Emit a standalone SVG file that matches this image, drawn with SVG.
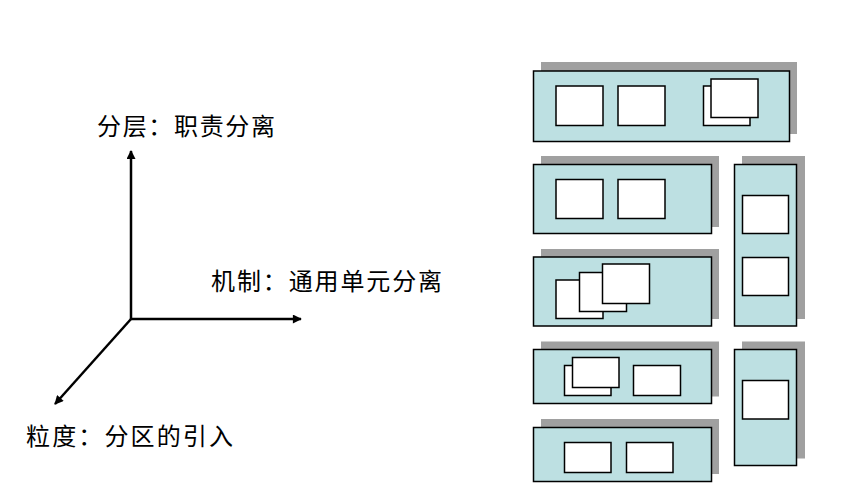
<svg xmlns="http://www.w3.org/2000/svg" width="854" height="490" viewBox="0 0 854 490">
<style>
.t{font-family:"Noto Sans CJK SC","Noto Sans",sans-serif;font-size:24px;fill:#000}
.sh{fill:#a0a0a0;stroke:none}
.pn{fill:#bde0e2;stroke:#000;stroke-width:1.5}
.bx{fill:#fff;stroke:#000;stroke-width:1.5}
.ax{stroke:#000;stroke-width:2.5;fill:none;marker-end:url(#ah)}
</style>
<defs>
<marker id="ah" viewBox="0 0 10 10" refX="9" refY="5" markerWidth="4" markerHeight="3.6" orient="auto" markerUnits="strokeWidth">
<path d="M0,0 L10,5 L0,10 z" fill="#000"/>
</marker>
</defs>
<rect width="854" height="490" fill="#fff"/>
<g id="connectors">
<line class="ax" x1="131" y1="319" x2="131" y2="151"/>
<line class="ax" x1="131" y1="319" x2="301" y2="319"/>
<line class="ax" x1="131" y1="319" x2="55" y2="404"/>
</g>
<g id="label-layer"><text class="t" x="97" y="135" textLength="178" lengthAdjust="spacing">分层：职责分离</text></g>
<g id="label-mechanism"><text class="t" x="211" y="290" textLength="231" lengthAdjust="spacing">机制：通用单元分离</text></g>
<g id="label-granularity"><text class="t" x="26" y="445" textLength="207" lengthAdjust="spacing">粒度：分区的引入</text></g>
<g id="panel1">
<rect class="sh" x="541" y="62" width="256" height="72"/>
<rect class="pn" x="533.5" y="71" width="256" height="70.5"/>
<rect class="bx" x="556" y="86" width="47" height="39.5"/>
<rect class="bx" x="618" y="86" width="47" height="39.5"/>
<rect class="bx" x="703.5" y="86" width="46.5" height="39.5"/>
<rect class="bx" x="711" y="79" width="47" height="38.5"/>
</g>
<g id="panel2">
<rect class="sh" x="541" y="156" width="178" height="71"/>
<rect class="pn" x="533.5" y="164.5" width="178" height="69"/>
<rect class="bx" x="556" y="179.5" width="47" height="39"/>
<rect class="bx" x="618" y="179.5" width="47" height="39"/>
</g>
<g id="panel3">
<rect class="sh" x="541" y="249" width="178" height="70"/>
<rect class="pn" x="533.5" y="257" width="178" height="69"/>
<rect class="bx" x="556" y="280" width="47" height="38.5"/>
<rect class="bx" x="579.5" y="272.5" width="47" height="39"/>
<rect class="bx" x="602.5" y="264" width="47" height="39.5"/>
</g>
<g id="panel4">
<rect class="sh" x="541" y="341.5" width="178" height="55"/>
<rect class="pn" x="533.5" y="349.5" width="178" height="54"/>
<rect class="bx" x="564.5" y="365.5" width="46.5" height="30"/>
<rect class="bx" x="572.5" y="357.5" width="46.5" height="30"/>
<rect class="bx" x="633.5" y="365.5" width="47" height="30"/>
</g>
<g id="panel5">
<rect class="sh" x="541" y="419" width="178" height="55"/>
<rect class="pn" x="533.5" y="427.5" width="178" height="54"/>
<rect class="bx" x="564.5" y="442.5" width="46.5" height="30"/>
<rect class="bx" x="626.5" y="442.5" width="46.5" height="30"/>
</g>
<g id="panel-v1">
<rect class="sh" x="742" y="156" width="63" height="163"/>
<rect class="pn" x="734.5" y="164.5" width="62" height="161.5"/>
<rect class="bx" x="742.5" y="195.5" width="46" height="38"/>
<rect class="bx" x="742.5" y="257.5" width="46" height="38"/>
</g>
<g id="panel-v2">
<rect class="sh" x="742" y="341.5" width="63" height="117"/>
<rect class="pn" x="734.5" y="349.5" width="62" height="116"/>
<rect class="bx" x="742.5" y="380.5" width="46" height="38.5"/>
</g>
</svg>
